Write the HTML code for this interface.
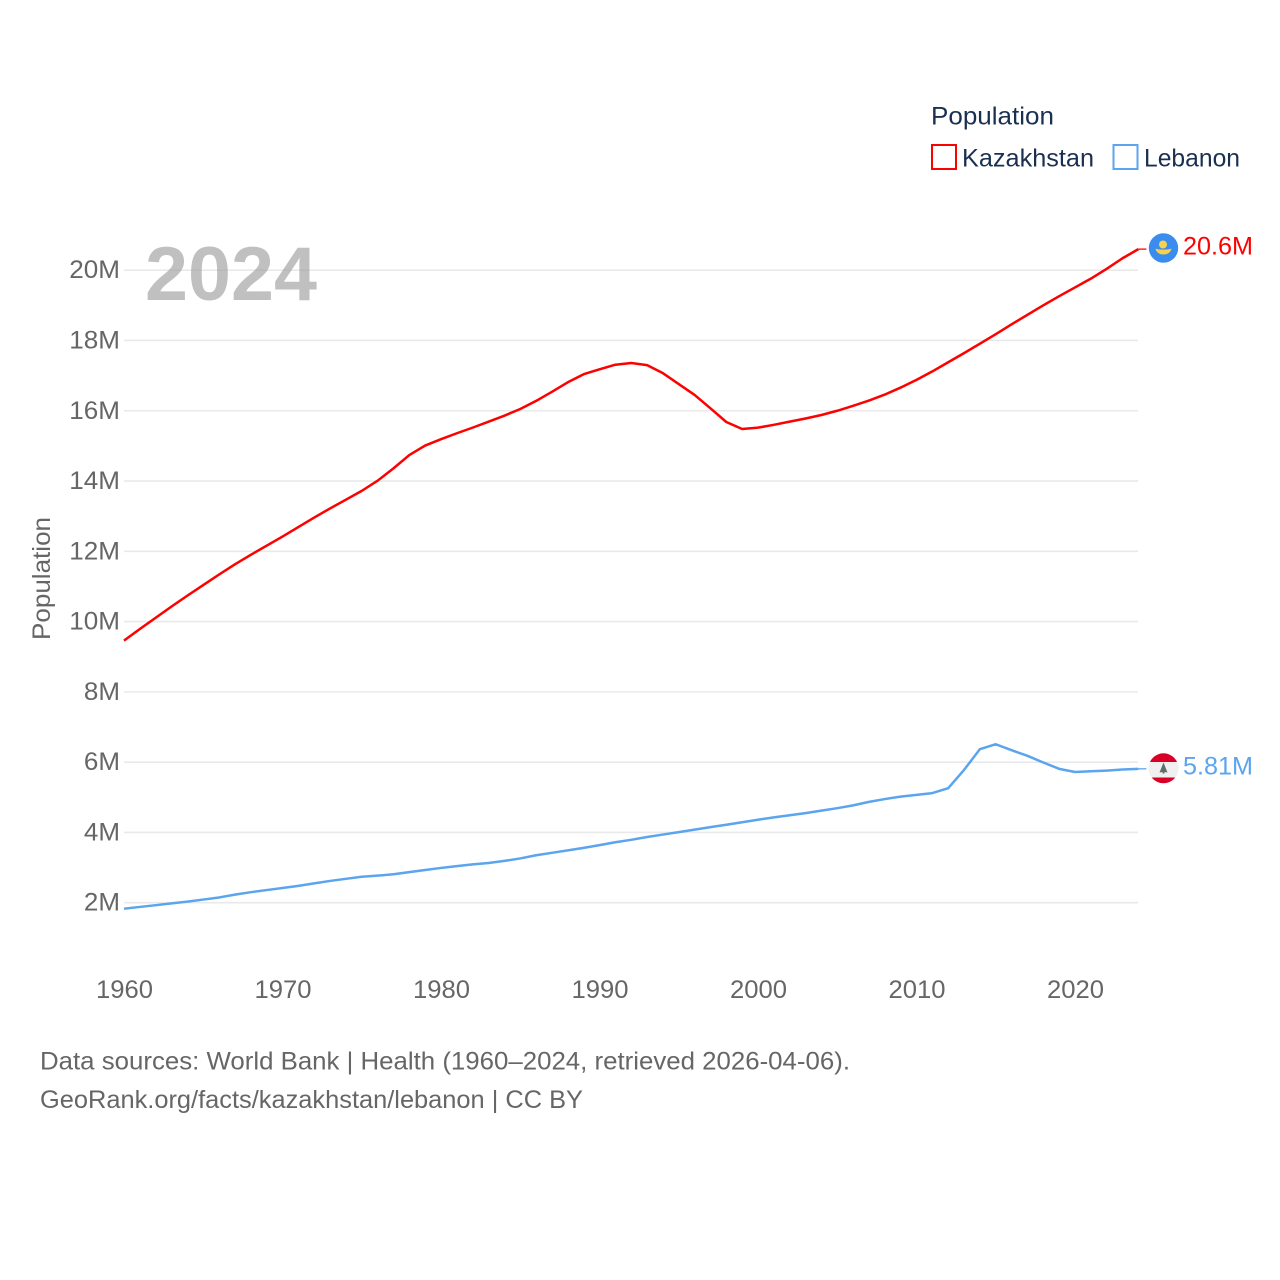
<!DOCTYPE html>
<html lang="en">
<head>
<meta charset="utf-8">
<title>Population: Kazakhstan and Lebanon</title>
<style>
html,body{margin:0;padding:0;background:#fff;width:1280px;height:1280px;overflow:hidden}
svg{display:block}
text{font-family:"Liberation Sans",sans-serif}
</style>
</head>
<body>
<svg id="chart" xmlns="http://www.w3.org/2000/svg" width="1280" height="1280" viewBox="0 0 1280 1280">
  <rect x="0" y="0" width="1280" height="1280" fill="#ffffff"/>
  <g id="grid"></g>
  <text x="145" y="300" font-size="76" font-weight="700" fill="#9a9a9a" fill-opacity="0.62" textLength="172" lengthAdjust="spacingAndGlyphs">2024</text>
  <g id="ylabels"></g>
  <g id="xlabels"></g>
  <text transform="translate(50 578.5) rotate(-90)" text-anchor="middle" font-size="25" fill="#666666" textLength="123" lengthAdjust="spacingAndGlyphs">Population</text>
  <g id="series"></g>

  <g>
    <circle cx="1163.5" cy="248" r="14.7" fill="#3a8dee"/>
    <circle cx="1163" cy="244.5" r="4" fill="#f7d24a"/>
    <path d="M1155.5 248.5 C1158 250 1169 250 1171.5 248.5 C1170.5 253 1167 254.5 1163.5 254.5 C1160 254.5 1156.5 253 1155.5 248.5Z" fill="#f7d24a"/>
  </g>
  <g>
    <clipPath id="lb-clip"><circle cx="1163.5" cy="768.3" r="15"/></clipPath>
    <g clip-path="url(#lb-clip)">
      <rect x="1148" y="752" width="31" height="10" fill="#d80027"/>
      <rect x="1148" y="762" width="31" height="15.5" fill="#f0f0f0"/>
      <rect x="1148" y="777.5" width="31" height="8" fill="#d80027"/>
    </g>
    <path d="M1163.5 762.5 L1167.5 772.5 L1164.5 772 L1164.5 773.5 L1162.5 773.5 L1162.5 772 L1159.5 772.5Z" fill="#5d6f66"/>
  </g>

  <text x="1183" y="254.5" font-size="25" fill="#ff0000" textLength="70" lengthAdjust="spacingAndGlyphs">20.6M</text>
  <text x="1183" y="774.5" font-size="25" fill="#5ba4ee" textLength="70" lengthAdjust="spacingAndGlyphs">5.81M</text>

  <g>
    <text x="931" y="124.5" font-size="25" fill="#1b3050" textLength="123" lengthAdjust="spacingAndGlyphs">Population</text>
    <rect x="932" y="145" width="24" height="24" fill="none" stroke="#ff0000" stroke-width="2"/>
    <text x="962" y="166.5" font-size="25" fill="#1b3050" textLength="132" lengthAdjust="spacingAndGlyphs">Kazakhstan</text>
    <rect x="1113.5" y="145" width="24" height="24" fill="none" stroke="#5ba4ee" stroke-width="2"/>
    <text x="1144" y="166.5" font-size="25" fill="#1b3050" textLength="96" lengthAdjust="spacingAndGlyphs">Lebanon</text>
  </g>

  <text x="40" y="1069.5" font-size="25" fill="#666666" textLength="810" lengthAdjust="spacingAndGlyphs">Data sources: World Bank | Health (1960–2024, retrieved 2026-04-06).</text>
  <text x="40" y="1108" font-size="25" fill="#666666" textLength="543" lengthAdjust="spacingAndGlyphs">GeoRank.org/facts/kazakhstan/lebanon | CC BY</text>
</svg>
<script>
var firstYear = 1960;
var kazakhstan = [9.46,9.79,10.11,10.43,10.74,11.04,11.34,11.63,11.9,12.16,12.42,12.69,12.96,13.22,13.47,13.72,14.01,14.36,14.74,15.01,15.19,15.36,15.52,15.69,15.86,16.05,16.28,16.54,16.81,17.04,17.18,17.31,17.36,17.3,17.07,16.76,16.45,16.07,15.68,15.48,15.52,15.6,15.69,15.78,15.88,16.0,16.14,16.29,16.46,16.66,16.88,17.12,17.38,17.64,17.91,18.18,18.46,18.73,19.0,19.26,19.51,19.76,20.04,20.34,20.6];
var lebanon = [1.83,1.88,1.93,1.98,2.03,2.09,2.15,2.23,2.3,2.36,2.42,2.48,2.55,2.62,2.68,2.74,2.77,2.81,2.87,2.93,2.99,3.04,3.09,3.13,3.19,3.26,3.35,3.42,3.49,3.56,3.64,3.72,3.79,3.87,3.94,4.01,4.08,4.15,4.22,4.29,4.36,4.43,4.49,4.55,4.62,4.69,4.77,4.87,4.95,5.02,5.07,5.12,5.26,5.78,6.37,6.51,6.34,6.18,5.99,5.81,5.72,5.74,5.76,5.79,5.81];
var yTicks = [2,4,6,8,10,12,14,16,18,20];
var xTicks = [1960,1970,1980,1990,2000,2010,2020];

var SVG_NS = 'http://www.w3.org/2000/svg';
function xScale(year) { return 124 + (year - firstYear) * 15.85; }
function yScale(v) { return 973 - v * 35.14; }
function make(tag, parent, attrs) {
  var el = document.createElementNS(SVG_NS, tag);
  for (var k in attrs) { el.setAttribute(k, attrs[k]); }
  parent.appendChild(el);
  return el;
}

var gridGroup = document.getElementById('grid');
var yGroup = document.getElementById('ylabels');
yTicks.forEach(function (t) {
  var y = yScale(t);
  var line = make('line', gridGroup, {x1: 124, x2: 1138, y1: y, y2: y, stroke: '#e9e9e9', 'stroke-width': 1.6});
  
  
  var label = t + 'M';
  var txt = make('text', yGroup, {x: 120, y: y + 8, 'text-anchor': 'end', 'font-size': 25, fill: '#666666',
    textLength: 14.6 * String(t).length + 21.5, lengthAdjust: 'spacingAndGlyphs'});
  txt.textContent = label;
  
  
});

var xGroup = document.getElementById('xlabels');
xTicks.forEach(function (t) {
  var txt = make('text', xGroup, {x: xScale(t) + 0.5, y: 998, 'text-anchor': 'middle', 'font-size': 25, fill: '#666666',
    textLength: 57, lengthAdjust: 'spacingAndGlyphs'});
  txt.textContent = String(t);
  
  
});

function drawSeries(values, color, name) {
  var group = document.getElementById('series');
  var pts = values.map(function (v, i) {
    return xScale(firstYear + i).toFixed(2) + ',' + yScale(v).toFixed(2);
  }).join(' ');
  var line = make('polyline', group, {points: pts, fill: 'none', stroke: color, 'stroke-width': 2.5, 'stroke-linejoin': 'round'});
  
  
  var lastYear = firstYear + values.length - 1;
  var lastY = yScale(values[values.length - 1]);
  var leader = make('line', group, {x1: xScale(lastYear), x2: xScale(lastYear) + 8, y1: lastY, y2: lastY, stroke: color, 'stroke-width': 1.3});
  
  
}
drawSeries(kazakhstan, '#ff0000', 'kazakhstan');
drawSeries(lebanon, '#5ba4ee', 'lebanon');
</script>
</body>
</html>
